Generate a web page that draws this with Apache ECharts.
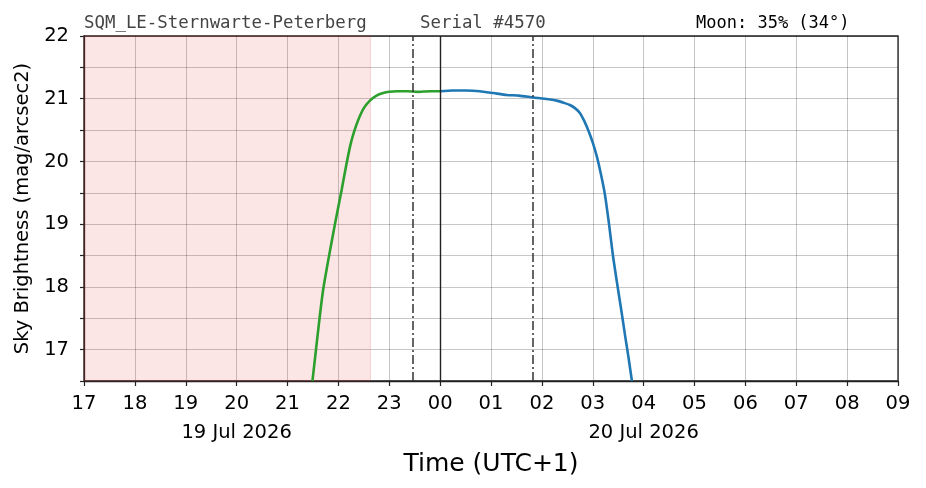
<!DOCTYPE html>
<html>
<head>
<meta charset="utf-8">
<script src="https://cdn.jsdelivr.net/npm/echarts@6/dist/echarts.min.js"></script>
<style>
  html, body { margin: 0; padding: 0; background: #fff; }
  #chart { width: 926px; height: 488px; }
</style>
</head>
<body>
<div id="chart"></div>
<script>
// time is hours after 17:00 on 19 Jul 2026 (UTC+1)
var startHour = 17;
var dayLabels = { 3: '19 Jul 2026', 11: '20 Jul 2026' };

// evening readings (green)
var eveningTime = [4.49, 4.56, 4.63, 4.70, 4.80, 4.90, 4.98, 5.065, 5.15, 5.23, 5.30, 5.39, 5.50, 5.62, 5.75, 5.88, 6.00, 6.15, 6.35, 6.55, 6.80, 7.00];
var eveningMag  = [16.5, 17.0, 17.5, 17.95, 18.42, 18.86, 19.2, 19.55, 19.92, 20.24, 20.45, 20.66, 20.85, 20.97, 21.05, 21.09, 21.11, 21.12, 21.12, 21.11, 21.12, 21.12];

// morning readings (blue)
var morningTime = [7.00, 7.25, 7.50, 7.78, 8.05, 8.31, 8.55, 8.83, 9.05, 9.29, 9.45, 9.55, 9.65, 9.75, 9.83, 9.91, 10.00, 10.08, 10.16, 10.24, 10.32, 10.40, 10.48, 10.57, 10.64, 10.70, 10.77];
var morningMag  = [21.12, 21.13, 21.13, 21.12, 21.09, 21.06, 21.05, 21.02, 21.0, 20.97, 20.93, 20.90, 20.85, 20.77, 20.65, 20.50, 20.3, 20.08, 19.8, 19.47, 19.0, 18.48, 18.05, 17.58, 17.2, 16.89, 16.5];

var sunBand = [0, 5.63];          // shaded (sun up / twilight)
var darkLimits = [6.47, 8.83];    // dash-dot lines
var midnight = 7;

function pairs(t, v) {
  var out = [];
  for (var i = 0; i < t.length; i++) out.push([t[i], v[i]]);
  return out;
}

var chart = echarts.init(document.getElementById('chart'));

var option = {
  animation: false,
  grid: {
    left: 84, right: 28, top: 36, bottom: 107,
    show: true, borderColor: '#222', borderWidth: 1.3
  },
  graphic: [
    { type: 'text', left: 84, top: 15,
      style: { text: 'SQM_LE-Sternwarte-Peterberg', fontFamily: 'DejaVu Sans Mono', fontSize: 17.4, fill: '#444' } },
    { type: 'text', left: 420, top: 15,
      style: { text: 'Serial #4570', fontFamily: 'DejaVu Sans Mono', fontSize: 17.4, fill: '#444' } },
    { type: 'text', left: 696, top: 15,
      style: { text: 'Moon: 35% (34°)', fontFamily: 'DejaVu Sans Mono', fontSize: 17, fill: '#000' } }
  ],
  xAxis: {
    type: 'value',
    min: 0, max: 16, interval: 1,
    name: 'Time (UTC+1)',
    nameLocation: 'middle',
    nameGap: 70,
    nameTextStyle: { fontFamily: 'DejaVu Sans', fontSize: 25, color: '#000' },
    axisLine: { lineStyle: { color: '#222', width: 1.3 } },
    axisTick: { length: 5, lineStyle: { color: '#222', width: 1.2 } },
    axisLabel: {
      margin: 8,
      fontFamily: 'DejaVu Sans', fontSize: 19.5, color: '#000', lineHeight: 29,
      formatter: function (v) {
        var h = (startHour + v) % 24;
        var s = (h < 10 ? '0' : '') + h;
        if (dayLabels[v]) s += '\n' + dayLabels[v];
        return s;
      }
    },
    splitLine: { show: true, lineStyle: { color: 'rgba(0,0,0,0.25)', width: 0.9 } }
  },
  yAxis: {
    type: 'value',
    min: 16.5, max: 22, interval: 0.5,
    name: 'Sky Brightness (mag/arcsec2)',
    nameLocation: 'middle',
    nameGap: 51,
    nameTextStyle: { fontFamily: 'DejaVu Sans', fontSize: 19.5, color: '#000' },
    axisLine: { show: true, lineStyle: { color: '#222', width: 1.3 } },
    axisTick: { show: true, length: 4, lineStyle: { color: '#222', width: 1.2 } },
    axisLabel: {
      margin: 15,
      fontFamily: 'DejaVu Sans', fontSize: 19.5, color: '#000',
      formatter: function (v) { return v % 1 === 0 ? String(v) : ''; }
    },
    splitLine: { show: true, lineStyle: { color: 'rgba(0,0,0,0.25)', width: 0.9 } }
  },
  series: [
    {
      type: 'line',
      data: pairs(eveningTime, eveningMag),
      showSymbol: false,
      smooth: 0.2,
      lineStyle: { color: '#2ca02c', width: 2.6 },
      itemStyle: { color: '#2ca02c' },
      z: 3,
      markArea: {
        silent: true,
        itemStyle: { color: 'rgba(220,40,40,0.12)', borderColor: 'rgba(220,40,40,0.16)', borderWidth: 1 },
        data: [[{ xAxis: sunBand[0] }, { xAxis: sunBand[1] }]]
      }
    },
    {
      type: 'line',
      data: pairs(morningTime, morningMag),
      showSymbol: false,
      smooth: 0.2,
      lineStyle: { color: '#1f77b4', width: 2.6 },
      itemStyle: { color: '#1f77b4' },
      z: 3
    },
    {
      type: 'line',
      data: [],
      z: 2,
      markLine: {
        silent: true,
        symbol: ['none', 'none'],
        label: { show: false },
        data: [
          { xAxis: darkLimits[0], lineStyle: { color: '#333', width: 1.5, type: [9, 3, 2, 3] } },
          { xAxis: darkLimits[1], lineStyle: { color: '#333', width: 1.5, type: [9, 3, 2, 3] } },
          { xAxis: midnight, lineStyle: { color: '#222', width: 1.4, type: 'solid' } }
        ]
      }
    }
  ]
};

chart.setOption(option);
</script>
</body>
</html>
